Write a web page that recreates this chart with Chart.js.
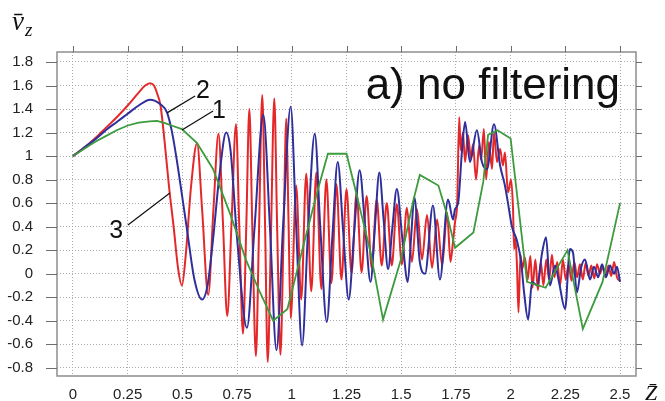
<!DOCTYPE html>
<html><head><meta charset="utf-8">
<script src="https://cdn.jsdelivr.net/npm/chart.js@4"></script>
<style>html,body{margin:0;padding:0;background:#fff}#wrap{width:665px;height:401px}</style>
</head><body><div id="wrap"><canvas id="c" width="665" height="401"></canvas></div>
<script>
// ---- data ----
const xTicks = [0, 0.25, 0.5, 0.75, 1, 1.25, 1.5, 1.75, 2, 2.25, 2.5];
const xTickLabels = ['0', '0.25', '0.5', '0.75', '1', '1.25', '1.5', '1.75', '2', '2.25', '2.5'];
const yTicks = [1.8, 1.6, 1.4, 1.2, 1, 0.8, 0.6, 0.4, 0.2, 0, -0.2, -0.4, -0.6, -0.8];
const yTickLabels = ['1.8', '1.6', '1.4', '1.2', '1', '0.8', '0.6', '0.4', '0.2', '0', '-0.2', '-0.4', '-0.6', '-0.8'];

const curve1Green = [
[0,1],[0.05,1.06],[0.10,1.12],[0.15,1.17],[0.20,1.22],[0.25,1.26],[0.30,1.285],[0.35,1.295],[0.384,1.30],[0.42,1.28],[0.45,1.26],[0.498,1.23],[0.567,1.11],[0.64,0.89],[0.72,0.50],[0.79,0.12],[0.855,-0.16],[0.915,-0.40],[0.98,-0.30],[1.06,0.29],[1.12,0.72],[1.165,1.02],[1.25,1.02],[1.29,0.72],[1.36,0.18],[1.417,-0.39],[1.497,0.11],[1.555,0.62],[1.585,0.84],[1.67,0.75],[1.71,0.50],[1.746,0.22],[1.83,0.35],[1.875,0.78],[1.897,1.18],[1.94,1.22],[2.0,1.15],[2.075,-0.07],[2.16,-0.12],[2.26,0.20],[2.33,-0.47],[2.42,-0.07],[2.5,0.60]
];

const curve2Blue = [
[0,1],[0.05,1.07],[0.10,1.14],[0.15,1.22],[0.20,1.29],[0.25,1.36],[0.30,1.43],[0.352,1.48],[0.40,1.44],[0.43,1.37],[0.452,1.21],[0.475,0.96],[0.498,0.67],[0.52,0.39],[0.555,-0.05],[0.59,-0.22],[0.615,-0.10],[0.64,0.29],[0.67,0.85],[0.70,1.20],[0.72,1.05],[0.75,0.30],[0.795,-0.46],[0.83,0.40],[0.87,1.35],[0.90,0.40],[0.93,-0.65],[0.96,0.40],[0.995,1.42],[1.02,0.40],[1.047,-0.61],[1.075,0.40],[1.105,1.19],[1.13,0.40],[1.16,-0.41],[1.185,0.30],[1.21,0.95],[1.235,0.35],[1.26,-0.22],[1.285,0.35],[1.31,0.88],[1.335,0.40],[1.36,-0.07],[1.38,0.40],[1.40,0.86],[1.42,0.45],[1.44,0.04],[1.46,0.40],[1.48,0.72],[1.505,0.30],[1.53,-0.07],[1.545,0.30],[1.56,0.65],[1.585,0.10],[1.609,0.00],[1.645,0.58],[1.677,-0.05],[1.714,0.63],[1.737,0.46],[1.746,0.55],[1.76,0.60],[1.778,1.05],[1.792,1.29],[1.814,0.95],[1.846,1.22],[1.869,0.95],[1.892,0.89],[1.924,1.27],[1.952,0.92],[1.974,0.75],[1.988,0.60],[2.006,0.40],[2.029,0.28],[2.048,0.10],[2.061,-0.15],[2.08,-0.39],[2.098,-0.07],[2.121,-0.10],[2.144,0.18],[2.162,0.31],[2.18,-0.10],[2.203,0.07],[2.221,-0.07],[2.249,-0.30],[2.271,0.21],[2.285,0.18],[2.303,-0.16],[2.322,0.05],[2.34,0.12],[2.363,-0.05],[2.381,0.06],[2.40,-0.03],[2.418,0.08],[2.436,-0.03],[2.454,0.07],[2.473,0.00],[2.486,0.06],[2.50,-0.07]
];

const curve3Red = [
[0,1],[0.05,1.07],[0.10,1.15],[0.15,1.24],[0.20,1.33],[0.25,1.43],[0.30,1.54],[0.33,1.60],[0.352,1.62],[0.37,1.60],[0.385,1.53],[0.40,1.43],[0.42,1.10],[0.44,0.72],[0.46,0.40],[0.48,0.05],[0.498,-0.10],[0.515,0.15],[0.54,0.75],[0.567,1.11],[0.59,0.55],[0.618,-0.18],[0.642,0.55],[0.665,1.19],[0.685,0.45],[0.705,-0.36],[0.725,0.45],[0.745,1.27],[0.76,0.40],[0.777,-0.51],[0.792,0.40],[0.806,1.40],[0.82,0.35],[0.836,-0.70],[0.85,0.35],[0.865,1.52],[0.878,0.40],[0.89,-0.75],[0.905,0.35],[0.92,1.49],[0.933,0.40],[0.948,-0.69],[0.962,0.30],[0.975,1.32],[0.985,0.45],[0.995,-0.38],
[1.02,0.75],[1.043,-0.22],[1.066,0.85],[1.089,-0.15],[1.112,0.86],[1.135,-0.13],[1.158,0.80],[1.181,-0.08],[1.204,0.76],[1.227,-0.05],[1.25,0.72],[1.273,0.00],[1.296,0.69],[1.319,0.01],[1.342,0.66],[1.365,0.05],[1.388,0.63],[1.411,0.07],[1.434,0.60],[1.457,0.07],[1.48,0.59],[1.503,0.08],[1.526,0.56],[1.549,0.10],[1.572,0.55],[1.595,0.12],[1.618,0.50],[1.641,0.05],[1.664,0.46],[1.687,0.07],[1.71,0.52],[1.725,0.10],[1.735,0.24],[1.746,0.44],[1.756,0.61],[1.765,1.33],[1.772,1.05],[1.782,1.20],[1.792,0.95],[1.805,1.18],[1.819,0.98],[1.828,1.10],[1.842,0.80],[1.856,1.09],[1.865,0.97],[1.878,1.23],[1.888,0.80],[1.901,1.12],[1.915,0.89],[1.924,1.20],[1.938,0.95],[1.952,1.06],[1.965,0.92],[1.974,1.03],[1.988,0.69],[2.002,0.80],[2.011,0.55],[2.016,0.21],[2.022,0.30],[2.029,0.07],[2.036,-0.33],[2.045,0.16],[2.053,0.04],[2.065,0.14],[2.078,-0.05],[2.09,0.15],[2.10,-0.12],[2.113,0.12],[2.125,-0.14],[2.138,0.10],[2.15,-0.10],[2.163,0.12],[2.176,-0.05],[2.189,0.16],[2.20,-0.03],[2.213,0.10],[2.226,-0.10],[2.239,0.12],[2.252,-0.05],[2.265,0.08],[2.278,-0.06],[2.291,0.10],[2.304,-0.03],[2.317,0.08],[2.33,-0.05],[2.343,0.09],[2.356,-0.02],[2.369,0.07],[2.382,-0.04],[2.395,0.08],[2.408,0.00],[2.421,0.06],[2.434,-0.03],[2.447,0.07],[2.46,-0.02],[2.473,0.10],[2.486,-0.03],[2.50,-0.06]
];

const panelTitle = 'a) no filtering';
const curveNames = ['1', '2', '3'];
const yAxisSymbol = 'v\u0304';
const yAxisSub = 'z';
const xAxisSymbol = 'Z\u0304';

// ---- layout / style (positions of annotation labels, in data units) ----
const calloutPos = [
  {text: 0, lx: 0.667, ly: 1.324, from: [0.640, 1.383], to: [0.498, 1.222]},
  {text: 1, lx: 0.594, ly: 1.492, from: [0.558, 1.511], to: [0.430, 1.367]},
  {text: 2, lx: 0.197, ly: 0.304, from: [0.251, 0.414], to: [0.443, 0.686]}
];

const toXY = arr => arr.map(p => ({x: p[0], y: p[1]}));

const decoPlugin = {
  id: 'deco',
  afterDraw(chart) {
    const ctx = chart.ctx;
    const {left, right, top, bottom} = chart.chartArea;
    const xs = chart.scales.x, ys = chart.scales.y;
    ctx.save();
    // frame
    ctx.strokeStyle = '#8e8e8e';
    ctx.lineWidth = 1.5;
    ctx.strokeRect(left, top, right - left, bottom - top);
    // tick marks
    ctx.strokeStyle = '#6e6e6e';
    ctx.lineWidth = 1;
    ctx.beginPath();
    yTicks.forEach(v => {
      const py = Math.round(ys.getPixelForValue(v)) + 0.5;
      ctx.moveTo(left - 11, py); ctx.lineTo(left, py);
      ctx.moveTo(right, py); ctx.lineTo(right + 6, py);
    });
    xTicks.forEach(v => {
      const px = Math.round(xs.getPixelForValue(v)) + 0.5;
      ctx.moveTo(px, top - 6); ctx.lineTo(px, top);
    });
    ctx.stroke();

    // panel title
    ctx.fillStyle = '#111';
    ctx.font = '44px "Liberation Sans", Arial, sans-serif';
    ctx.textAlign = 'right';
    ctx.textBaseline = 'alphabetic';
    ctx.fillText(panelTitle, 620, 99);

    // callouts
    ctx.strokeStyle = '#111';
    ctx.lineWidth = 1.3;
    ctx.font = '25px "Liberation Sans", Arial, sans-serif';
    ctx.textAlign = 'center';
    calloutPos.forEach(c => {
      ctx.beginPath();
      ctx.moveTo(xs.getPixelForValue(c.from[0]), ys.getPixelForValue(c.from[1]));
      ctx.lineTo(xs.getPixelForValue(c.to[0]), ys.getPixelForValue(c.to[1]));
      ctx.stroke();
      ctx.fillText(curveNames[c.text], xs.getPixelForValue(c.lx), ys.getPixelForValue(c.ly));
    });

    // axis titles
    ctx.textAlign = 'left';
    ctx.font = 'italic 27px "Liberation Serif", "DejaVu Serif", serif';
    ctx.fillText(yAxisSymbol, 12, 30);
    ctx.font = 'italic 19px "Liberation Serif", "DejaVu Serif", serif';
    ctx.fillText(yAxisSub, 25, 36);
    ctx.font = 'italic 22px "Liberation Serif", "DejaVu Serif", serif';
    ctx.fillText(xAxisSymbol, 645, 400);
    ctx.restore();
  }
};

const tickFont = {size: 15, family: '"Liberation Sans", Arial, sans-serif'};

new Chart(document.getElementById('c').getContext('2d'), {
  type: 'line',
  data: {
    datasets: [
      {label: curveNames[0], data: toXY(curve1Green), borderColor: '#3d9b3d', borderWidth: 1.8, pointRadius: 0, tension: 0, order: 0},
      {label: curveNames[1], data: toXY(curve2Blue), borderColor: '#2f2f9c', borderWidth: 2, pointRadius: 0, cubicInterpolationMode: 'monotone', order: 1},
      {label: curveNames[2], data: toXY(curve3Red), borderColor: '#e4282a', borderWidth: 2, pointRadius: 0, cubicInterpolationMode: 'monotone', order: 2}
    ]
  },
  options: {
    responsive: false,
    animation: false,
    devicePixelRatio: 1,
    layout: {padding: {top: 52, right: 29, left: 0, bottom: 0}},
    plugins: {legend: {display: false}, tooltip: {enabled: false}},
    scales: {
      x: {
        type: 'linear', min: -0.073, max: 2.573,
        afterBuildTicks: s => { s.ticks = xTicks.map(v => ({value: v})); },
        afterFit: s => { s.height = 25; s.paddingLeft = 0; s.paddingRight = 0; },
        ticks: {callback: (v, i) => xTickLabels[i], font: tickFont, color: '#222', padding: 10, maxRotation: 0, autoSkip: false},
        grid: {color: '#ababab', lineWidth: 1, drawTicks: false},
        border: {display: false, dash: [1, 2]}
      },
      y: {
        type: 'linear', min: -0.87, max: 1.885,
        afterBuildTicks: s => { s.ticks = yTicks.map(v => ({value: v})); },
        afterFit: s => { s.width = 57; s.paddingTop = 0; s.paddingBottom = 0; },
        ticks: {callback: (v, i) => yTickLabels[i], font: tickFont, color: '#222', padding: 24, autoSkip: false},
        grid: {color: '#ababab', lineWidth: 1, drawTicks: false},
        border: {display: false, dash: [1, 2]}
      }
    }
  },
  plugins: [decoPlugin]
});
</script>
</body></html>
